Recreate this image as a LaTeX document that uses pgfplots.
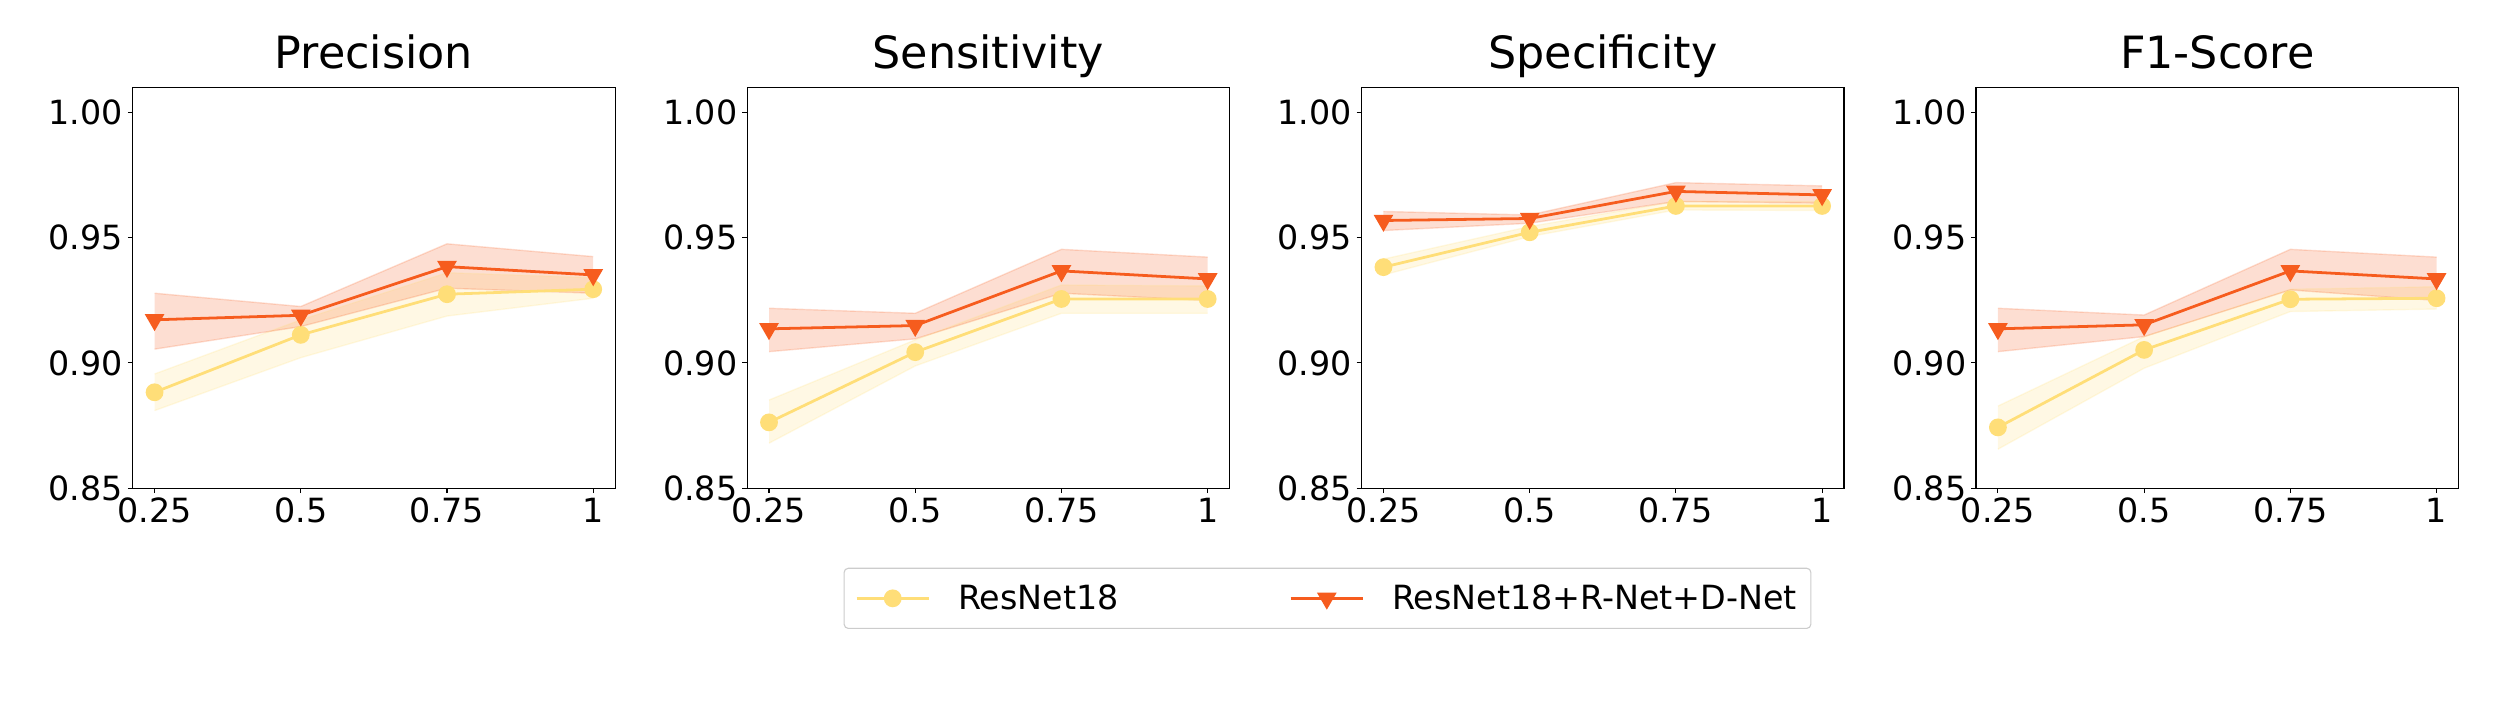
\documentclass[border=0pt]{standalone}
\usepackage{fontspec}
\setmainfont{DejaVu Sans}
\usepackage{pgfplots}
\usepackage{pgfplotstable}
\pgfplotsset{compat=1.18}
\usepgfplotslibrary{fillbetween}

\definecolor{rnyellow}{RGB}{255,222,120}
\definecolor{rnorange}{RGB}{246,92,30}
\definecolor{legframe}{RGB}{204,204,204}

% columns: x, ResNet18 mean/upper/lower, ResNet18+R-Net+D-Net mean/upper/lower
\pgfplotstableread{
x    rm     ru     rl     om     ou     ol
0.25 0.8883 0.8956 0.8810 0.9172 0.9278 0.9055
0.50 0.9112 0.9172 0.9021 0.9190 0.9225 0.9145
0.75 0.9274 0.9360 0.9187 0.9384 0.9475 0.9298
1.00 0.9294 0.9340 0.9258 0.9351 0.9424 0.9278
}\precision
\pgfplotstableread{
x    rm     ru     rl     om     ou     ol
0.25 0.8763 0.8852 0.8680 0.9136 0.9218 0.9045
0.50 0.9043 0.9092 0.8988 0.9149 0.9198 0.9096
0.75 0.9255 0.9311 0.9198 0.9367 0.9453 0.9278
1.00 0.9255 0.9307 0.9198 0.9335 0.9422 0.9249
}\sensitivity
\pgfplotstableread{
x    rm     ru     rl     om     ou     ol
0.25 0.9382 0.9414 0.9351 0.9568 0.9604 0.9528
0.50 0.9521 0.9544 0.9504 0.9576 0.9590 0.9557
0.75 0.9626 0.9644 0.9610 0.9684 0.9719 0.9644
1.00 0.9626 0.9644 0.9608 0.9670 0.9706 0.9637
}\specificity
\pgfplotstableread{
x    rm     ru     rl     om     ou     ol
0.25 0.8743 0.8828 0.8656 0.9136 0.9218 0.9045
0.50 0.9052 0.9105 0.8979 0.9152 0.9191 0.9105
0.75 0.9254 0.9294 0.9205 0.9367 0.9453 0.9291
1.00 0.9258 0.9304 0.9215 0.9335 0.9422 0.9249
}\fscore

\pgfplotsset{
  band/.style={line width=1pt, draw opacity=0.2, forget plot},
  meanA/.style={rnyellow, line width=2pt, mark=*, mark size=5.4pt},
  meanB/.style={rnorange, line width=2pt, mark=triangle*, mark size=6.2pt,
    mark options={rotate=180}},
  panel/.style={
    scale only axis,
    width=347.4pt, height=288.9pt,
    anchor=south west,
    xmin=0.2125, xmax=1.0375, ymin=0.85, ymax=1.01,
    xtick={0.25,0.5,0.75,1}, xticklabels={0.25,0.5,0.75,1},
    ytick={0.85,0.90,0.95,1.00},
    yticklabel style={/pgf/number format/fixed,
      /pgf/number format/fixed zerofill,
      /pgf/number format/precision=2},
    /pgf/number format/assume math mode=true,
    tick label style={font=\fontsize{24}{28}\selectfont},
    tick align=outside, tick pos=left,
    major tick length=3.5pt,
    every tick/.style={black, line width=0.8pt},
    axis line style={line width=0.8pt},
    title style={font=\fontsize{32}{38}\selectfont, at={(0.5,1)}, anchor=base, yshift=7.4pt},
  },
}

\newcommand{\drawpanel}[2]{%
  \addplot[band, rnyellow, name path=ru#2] table[x=x, y=ru]{#1};
  \addplot[band, rnyellow, name path=rl#2] table[x=x, y=rl]{#1};
  \addplot[rnyellow, fill opacity=0.2, draw=none, forget plot] fill between[of=ru#2 and rl#2];
  \addplot[band, rnorange, name path=ou#2] table[x=x, y=ou]{#1};
  \addplot[band, rnorange, name path=ol#2] table[x=x, y=ol]{#1};
  \addplot[rnorange, fill opacity=0.2, draw=none, forget plot] fill between[of=ou#2 and ol#2];
  \addplot[meanA] table[x=x, y=rm]{#1};
  \addplot[meanB] table[x=x, y=om]{#1};
}

\begin{document}
\begin{tikzpicture}

\begin{axis}[panel, at={(95.5pt,152.4pt)}, title={Precision}]
\drawpanel{\precision}{a}
\end{axis}

\begin{axis}[panel, at={(537.9pt,152.4pt)}, title={Sensitivity}]
\drawpanel{\sensitivity}{b}
\end{axis}

\begin{axis}[panel, at={(980.3pt,152.4pt)}, title={Specificity}]
\drawpanel{\specificity}{c}
\end{axis}

\begin{axis}[panel, at={(1422.7pt,152.4pt)}, title={F1-Score}]
\drawpanel{\fscore}{d}
\end{axis}

% legend only
\begin{axis}[scale only axis, width=10pt, height=10pt, anchor=center,
  at={(955.8pt,73.2pt)}, hide axis,
  xmin=0, xmax=1, ymin=0, ymax=1,
  legend columns=2,
  legend cell align=left,
  legend image code/.code={
    \draw[mark repeat=2, mark phase=2, #1]
      plot coordinates {(0pt,0pt) (26pt,0pt) (52pt,0pt)};
  },
  legend style={at={(0.5,0.5)}, anchor=center,
    draw=legframe, line width=0.8pt, rounded corners=3pt, fill=white,
    font=\fontsize{24}{28}\selectfont,
    inner xsep=8pt, inner ysep=10pt,
    /tikz/every odd column/.append style={column sep=18pt},
    /tikz/every even column/.append style={column sep=121pt}}]
\addlegendimage{meanA}
\addlegendentry{ResNet18}
\addlegendimage{meanB}
\addlegendentry{ResNet18+R-Net+D-Net}
\end{axis}

\path (0,0) rectangle (1800pt,504pt);
\end{tikzpicture}
\end{document}
